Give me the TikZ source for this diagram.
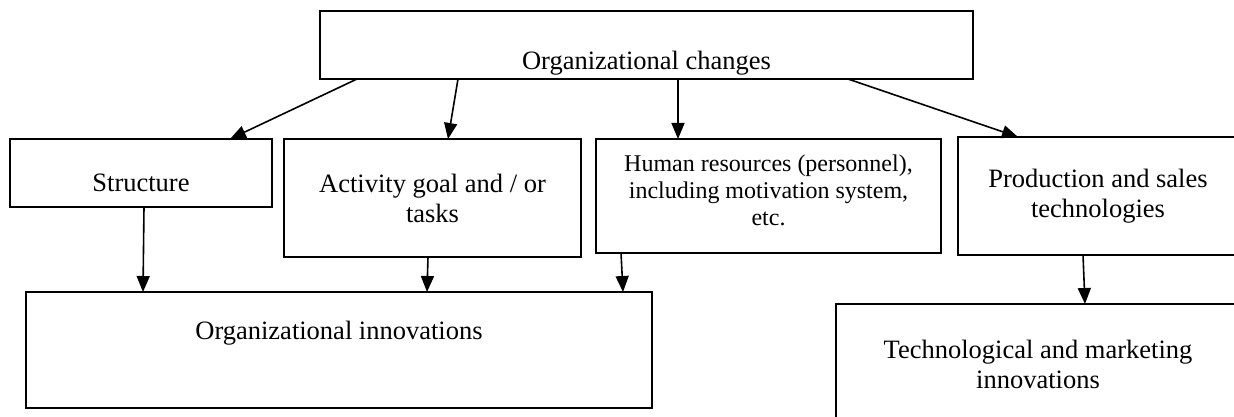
\documentclass[tikz,border=0pt]{standalone}
\usepackage{fontspec}
\setmainfont{Liberation Serif}
\usetikzlibrary{arrows.meta,calc}
\tikzset{>={Triangle[width=13pt,length=16pt]},
 box/.style={draw,line width=1.4pt,inner sep=0pt,outer sep=0pt,anchor=north west},
 txt/.style={font=\fontsize{26.5}{30}\selectfont,align=center,anchor=center},
 small/.style={font=\fontsize{24}{27}\selectfont,align=center,anchor=center},
 flow/.style={->,line width=1.6pt}}

\begin{document}
\begin{tikzpicture}[x=1pt,y=-1pt]
\clip (0,0) rectangle (1234,417);
% boxes, placed by their top left corner
\node[box,minimum width=653,minimum height=68,
 label={[txt,yshift=-18]center:Organizational changes}] (changes) at (320,11) {};
\node[box,minimum width=262,minimum height=68,
 label={[txt,yshift=-10]center:Structure}] (struct) at (10,139) {};
\node[box,minimum width=297,minimum height=118,
 label={[txt]center:Activity goal and / or\\tasks}] (goal) at (284,139) {};
\node[box,minimum width=345,minimum height=114,
 label={[small,yshift=6]center:Human resources (personnel),\\including motivation system,\\etc.}] (human) at (596,139) {};
\node[box,minimum width=280,minimum height=118,
 label={[txt]center:Production and sales\\technologies}] (prod) at (958,137) {};
\node[box,minimum width=626,minimum height=116,
 label={[txt,yshift=17]center:Organizational innovations}] (orginn) at (26,292) {};
\node[box,minimum width=404,minimum height=140,
 label={[txt,yshift=10]center:Technological and marketing\\innovations}] (techinn) at (836,304) {};
% arrows
\draw[flow] ($(changes.south west)+(37,0)$) -- ($(struct.north west)+(220,0)$);
\draw[flow] ($(changes.south west)+(138,0)$) -- ($(goal.north west)+(164,0)$);
\draw[flow] ($(changes.south west)+(358,0)$) -- ($(human.north west)+(82,0)$);
\draw[flow] ($(changes.south west)+(528,0)$) -- ($(prod.north west)+(60,0)$);
\draw[flow] ($(struct.south west)+(134,0)$) -- ($(orginn.north west)+(117,0)$);
\draw[flow] ($(goal.south west)+(144,0)$) -- ($(orginn.north west)+(401,0)$);
\draw[flow] ($(human.south west)+(25,0)$) -- ($(orginn.north west)+(597,0)$);
\draw[flow] ($(prod.south west)+(125,0)$) -- ($(techinn.north west)+(249,0)$);
\end{tikzpicture}
\end{document}
